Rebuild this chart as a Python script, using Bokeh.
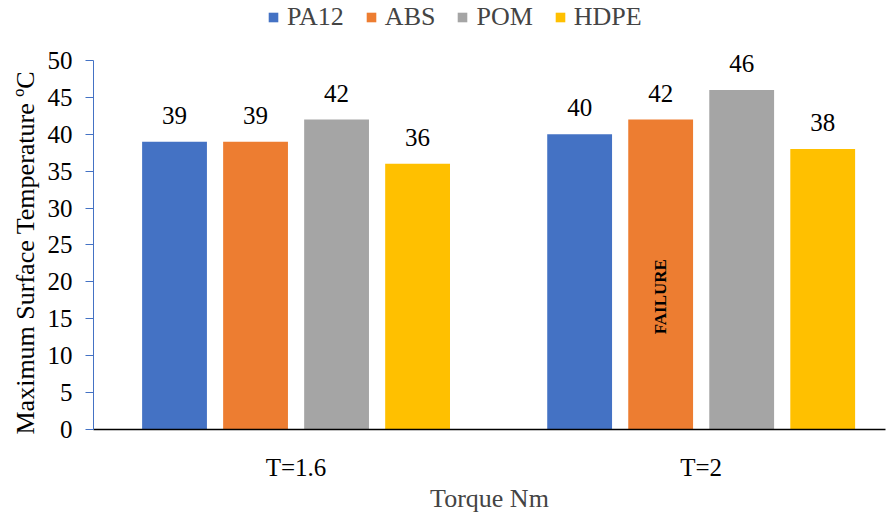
from bokeh.plotting import figure
from bokeh.models import ColumnDataSource, Legend, LegendItem, FixedTicker, Range1d, Title
from bokeh.core.properties import value
from bokeh.embed import file_html
from bokeh.resources import INLINE

# Torque settings (x categories) and materials (series)
torques = ["T=1.6", "T=2"]
materials = ["PA12", "ABS", "POM", "HDPE"]
colors = ["#4472C4", "#ED7D31", "#A5A5A5", "#FFC000"]

# Maximum surface temperature (°C) per material, one value per torque
pa12 = [39, 40]
abs_ = [39, 42]
pom = [42, 46]
hdpe = [36, 38]
series = [pa12, abs_, pom, hdpe]

y_ticks = [0, 5, 10, 15, 20, 25, 30, 35, 40, 45, 50]

FONT = "'Liberation Serif', 'Times New Roman', serif"
SERIF = "serif"

# The frame reaches the top edge so the legend can sit above the 0-50 axis
p = figure(width=889, height=515, output_backend="svg", toolbar_location=None,
           x_range=Range1d(-0.5, 1.455), y_range=Range1d(0, 58.13),
           min_border_left=93, min_border_right=4, min_border_top=0, min_border_bottom=86)
p.outline_line_color = None
p.xgrid.visible = False
p.ygrid.visible = False

offsets = [-0.3, -0.1, 0.1, 0.3]
bar_width = 0.16
items = []
for name, vals, col, off in zip(materials, series, colors, offsets):
    xs = [i + off for i in range(len(torques))]
    src = ColumnDataSource(dict(x=xs, top=vals, label=[str(v) for v in vals]))
    r = p.vbar(x="x", top="top", width=bar_width, source=src, fill_color=col, line_color=None)
    p.text(x="x", y="top", text="label", source=src, text_align="center",
           text_baseline="bottom", y_offset=-18, text_font=value(SERIF),
           text_font_size="25px", text_color="#000000")
    items.append(LegendItem(label=name, renderers=[r]))

# Note inside the ABS bar at T=2
p.text(x=[1 - 0.1], y=[18], text=["FAILURE"], angle=1.5708, text_align="center",
       text_baseline="middle", text_font=value(FONT), text_font_size="17px",
       text_font_style="bold", text_color="#000000")

legend = Legend(items=items, orientation="horizontal", location=(174, 397),
                border_line_color=None, background_fill_alpha=0,
                label_text_font=SERIF, label_text_font_size="26px",
                glyph_width=12, glyph_height=12, spacing=21, label_standoff=8,
                padding=0, margin=0)
p.add_layout(legend, "center")

# x axis
p.xaxis.ticker = FixedTicker(ticks=[0, 1])
p.xaxis.major_label_overrides = {0: torques[0], 1: torques[1]}
p.xaxis.major_tick_line_color = None
p.xaxis.minor_tick_line_color = None
p.xaxis.axis_line_color = "#000000"
p.xaxis.axis_line_width = 1.5
p.xaxis.major_label_text_font = SERIF
p.xaxis.major_label_text_font_size = "25px"
p.xaxis.major_label_text_color = "#000000"
p.xaxis.major_label_standoff = 18
p.xaxis.axis_label = "Torque Nm"
p.xaxis.axis_label_text_font = FONT
p.xaxis.axis_label_text_font_size = "26px"
p.xaxis.axis_label_text_font_style = "normal"
p.xaxis.axis_label_standoff = 0

# y axis, drawn only over 0-50
p.yaxis.ticker = FixedTicker(ticks=y_ticks)
p.yaxis.bounds = (0, 50)
p.yaxis.minor_tick_line_color = None
p.yaxis.axis_line_color = "#4472C4"
p.yaxis.major_tick_line_color = "#4472C4"
p.yaxis.major_tick_in = 0
p.yaxis.major_tick_out = 8
p.yaxis.major_label_text_font = SERIF
p.yaxis.major_label_text_font_size = "25px"
p.yaxis.major_label_text_color = "#000000"
p.yaxis.major_label_standoff = 13

# Value-axis title, placed along the 0-50 span of the axis
y_title = Title(text="Maximum Surface Temperature ºC", align="left", offset=-5,
                text_font=FONT, text_font_size="26px", text_font_style="normal",
                text_color="#000000", standoff=10)
p.add_layout(y_title, "left")

open("out.html", "w").write(file_html(p, INLINE))
